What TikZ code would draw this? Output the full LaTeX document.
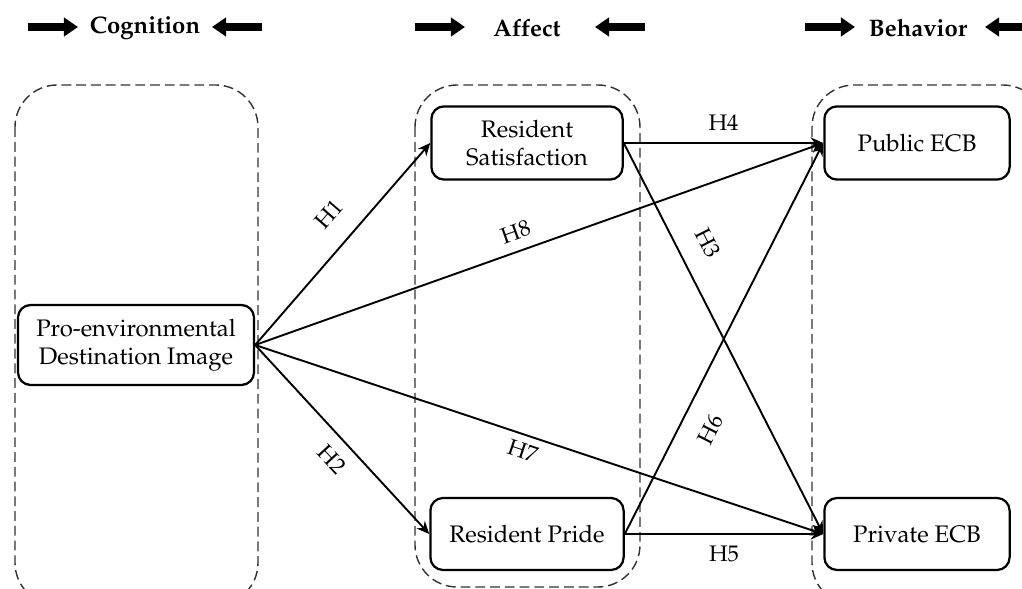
\documentclass[tikz,border=0pt]{standalone}
\usepackage[T1]{fontenc}
\usepackage{mathpazo}
\usetikzlibrary{arrows.meta,positioning}

\begin{document}
\begin{tikzpicture}[x=0.025cm,y=-0.025cm,
	main_node/.style={draw,rounded corners=9pt,line width=1.6pt,align=center,inner sep=0pt,font=\fontsize{17}{20}\selectfont},
	group_box/.style={draw=black!80,dash pattern=on 7pt off 3.5pt,line width=1pt,rounded corners=30pt},
	head_node/.style={font=\fontsize{17}{20}\selectfont\bfseries},
	head_arrow/.style={line width=5.5pt,-{Triangle[length=10pt,width=13pt]}},
	link/.style={line width=1.35pt,-{Stealth[length=9pt,width=8pt,inset=3pt]}},
	hyp/.style={font=\fontsize{16}{18}\selectfont,sloped}]

		\clip (0,0) rectangle (1022,589);
		\useasboundingbox (0,0) rectangle (1022,589);

		% column headings
		\node[head_node] (cog) at (145,28) {Cognition};
		\node[head_node] (aff) at (527,28) {Affect};
		\node[head_node] (beh) at (918,28) {Behavior};

		\coordinate (cogL) at (28,27);  \coordinate (cogR) at (262,27);
		\coordinate (affL) at (415,27); \coordinate (affR) at (645,27);
		\coordinate (behL) at (805,27); \coordinate (behR) at (1030,27);

		\draw[head_arrow] (cogL) -- ++(50,0);
		\draw[head_arrow] (cogR) -- ++(-50,0);
		\draw[head_arrow] (affL) -- ++(50,0);
		\draw[head_arrow] (affR) -- ++(-50,0);
		\draw[head_arrow] (behL) -- ++(50,0);
		\draw[head_arrow] (behR) -- ++(-45,0);

		% dashed groups
		\draw[group_box] (15,85) rectangle (258,605);
		\draw[group_box] (415,85) rectangle (640,587);
		\draw[group_box] (812,85) rectangle (1045,605);

		% constructs
		\node[main_node,minimum width=5.9cm,minimum height=2cm] (img) at (136,345) {Pro-environmental\\Destination Image};
		\node[main_node,minimum width=4.78cm,minimum height=1.83cm] (sat) at (527,143) {Resident\\Satisfaction};
		\node[main_node,minimum width=4.83cm,minimum height=1.8cm] (pride) at (527,534) {Resident Pride};
		\node[main_node,minimum width=4.63cm,minimum height=1.83cm] (pub) at (917,143) {Public ECB};
		\node[main_node,minimum width=4.63cm,minimum height=1.8cm] (priv) at (917,534) {Private ECB};

		% hypotheses
		\draw[link] (img.east) -- node[hyp,above=12pt,pos=0.55]{H1} (sat.west);
		\draw[link] (img.east) -- node[hyp,below=5.5pt,pos=0.53]{H2} (pride.west);
		\draw[link] (img.east) -- node[hyp,above=4pt,pos=0.47]{H8} (pub.west);
		\draw[link] (img.east) -- node[hyp,below=2pt,pos=0.48]{H7} (priv.west);
		\draw[link] (sat.east) -- node[hyp,above=5pt,pos=0.5]{H4} (pub.west);
		\draw[link] (sat.east) -- node[hyp,above=11pt,pos=0.29]{H3} (priv.west);
		\draw[link] (pride.east) -- node[hyp,below=11pt,pos=0.3]{H6} (pub.west);
		\draw[link] (pride.east) -- node[hyp,below=4.5pt,pos=0.5]{H5} (priv.west);
		\end{tikzpicture}
\end{document}
